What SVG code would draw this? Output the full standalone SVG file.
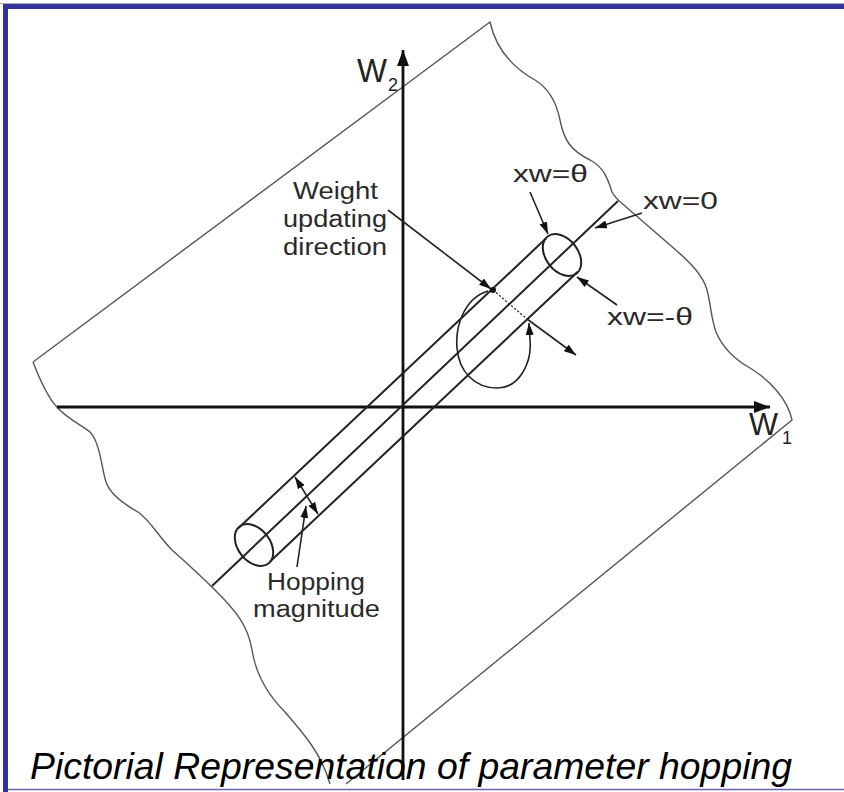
<svg xmlns="http://www.w3.org/2000/svg" width="844" height="792" viewBox="0 0 844 792">
<style>
.sheet{fill:none;stroke:#555;stroke-width:1.4;stroke-linejoin:round}
.axis{fill:none;stroke:#111;stroke-width:2.8}
.tube{fill:none;stroke:#222;stroke-width:2}
.ptr{fill:none;stroke:#222;stroke-width:1.6}
.lbl{font-family:"Liberation Sans",Arial,sans-serif;font-size:23px;fill:#2a2a2a}
.cap{font-family:"Liberation Sans",Arial,sans-serif;font-size:36px;font-style:italic;fill:#000}
</style>
<defs>
<marker id="ah" viewBox="0 0 12 8" refX="12" refY="4" markerWidth="12" markerHeight="8" markerUnits="userSpaceOnUse" orient="auto-start-reverse"><path d="M0,0 L12,4 L0,8 z" fill="#111"/></marker>
<marker id="ax" viewBox="0 0 16 12" refX="16" refY="6" markerWidth="16" markerHeight="12" markerUnits="userSpaceOnUse" orient="auto"><path d="M0,0 L16,6 L0,12 z" fill="#111"/></marker>
</defs>
<rect width="844" height="792" fill="#fff"/>
<g id="frame">
<line x1="0" y1="3.5" x2="844" y2="3.5" stroke="#aab" stroke-width="1"/>
<line x1="3" y1="6.5" x2="844" y2="6.5" stroke="#333399" stroke-width="5"/>
<line x1="5.5" y1="4" x2="5.5" y2="792" stroke="#333399" stroke-width="5"/>
<line x1="8" y1="789.5" x2="844" y2="789.5" stroke="#6666aa" stroke-width="1.5"/>
</g>
<g id="sheet">
<path class="sheet" d="M33,362 L490,22 C495,45 510,66 535,80 C548,88 556,100 560,120 C564,140 570,150 590,160 C605,168 608,180 612,192 C615,198 618,200 625,206 L670,245 C690,262 703,275 707,290 C711,305 711,318 716,332 C722,346 732,358 750,368 C770,380 788,400 792,420 L346,784"/>
<path class="sheet" d="M33,362 C40,380 48,398 57,407 C66,418 80,424 90,432 C100,442 102,470 106,482 C110,494 122,503 138,512 C150,520 158,536 172,550 C190,566 205,580 215,590 C235,610 248,625 252,650 C256,675 268,695 285,712 C305,735 322,755 330,784"/>
</g>
<g id="axes">
<line class="axis" x1="403" y1="780" x2="403" y2="50" marker-end="url(#ax)"/>
<line class="axis" x1="57" y1="407" x2="770" y2="407" marker-end="url(#ax)"/>
</g>
<g id="tube">
<line class="tube" x1="212" y1="586" x2="618" y2="201"/>
<line class="tube" x1="238.2" y1="528.3" x2="546.2" y2="238.3"/>
<line class="tube" x1="269.8" y1="561.7" x2="577.8" y2="271.7"/>
<ellipse class="tube" cx="254" cy="545" rx="23.5" ry="16" transform="rotate(52 254 545)"/>
<ellipse class="tube" cx="562" cy="255" rx="23.5" ry="16" transform="rotate(52 562 255)"/>
</g>
<g id="connectors">
<line class="ptr" x1="388" y1="210" x2="491" y2="289" marker-end="url(#ah)"/>
<circle cx="493" cy="290" r="3" fill="#111"/>
<line x1="493" y1="290" x2="527" y2="319" stroke="#222" stroke-width="1.3" stroke-dasharray="2,2"/>
<line class="ptr" x1="527" y1="319" x2="576" y2="355" marker-end="url(#ah)"/>
<path class="ptr" d="M488,291 C465,298 455,325 457,348 C459,372 475,388 497,388 C520,388 532,362 530,340 L529,323" marker-end="url(#ah)"/>
<line class="ptr" x1="530" y1="192" x2="548" y2="234" marker-end="url(#ah)"/>
<line class="ptr" x1="642" y1="213" x2="595" y2="228" marker-end="url(#ah)"/>
<line class="ptr" x1="617" y1="305" x2="577" y2="277" marker-end="url(#ah)"/>
<line class="ptr" x1="295" y1="477" x2="318" y2="514" marker-start="url(#ah)" marker-end="url(#ah)"/>
<line class="ptr" x1="297" y1="567" x2="306" y2="506" marker-end="url(#ah)"/>
</g>
<g id="labels">
<text x="357" y="82" font-family="Liberation Sans,Arial,sans-serif" font-size="33" fill="#222" textLength="30" lengthAdjust="spacingAndGlyphs">W</text>
<text x="388" y="91" font-family="Liberation Sans,Arial,sans-serif" font-size="18" fill="#222">2</text>
<text x="749" y="435" font-family="Liberation Sans,Arial,sans-serif" font-size="32" fill="#222" textLength="29" lengthAdjust="spacingAndGlyphs">W</text>
<text x="782" y="444" font-family="Liberation Sans,Arial,sans-serif" font-size="18" fill="#222">1</text>
<text class="lbl" x="293" y="199" textLength="85" lengthAdjust="spacingAndGlyphs">Weight</text>
<text class="lbl" x="283" y="227" textLength="104" lengthAdjust="spacingAndGlyphs">updating</text>
<text class="lbl" x="283" y="255" textLength="104" lengthAdjust="spacingAndGlyphs">direction</text>
<text class="lbl" x="513" y="182" textLength="75" lengthAdjust="spacingAndGlyphs">xw=θ</text>
<text class="lbl" x="643" y="209" textLength="75" lengthAdjust="spacingAndGlyphs">xw=0</text>
<text class="lbl" x="607" y="325" textLength="86" lengthAdjust="spacingAndGlyphs">xw=-θ</text>
<text class="lbl" x="267" y="590" textLength="98" lengthAdjust="spacingAndGlyphs">Hopping</text>
<text class="lbl" x="253" y="617" textLength="127" lengthAdjust="spacingAndGlyphs">magnitude</text>
<text class="cap" x="30" y="779" textLength="762" lengthAdjust="spacingAndGlyphs">Pictorial Representation of parameter hopping</text>
</g>
</svg>
